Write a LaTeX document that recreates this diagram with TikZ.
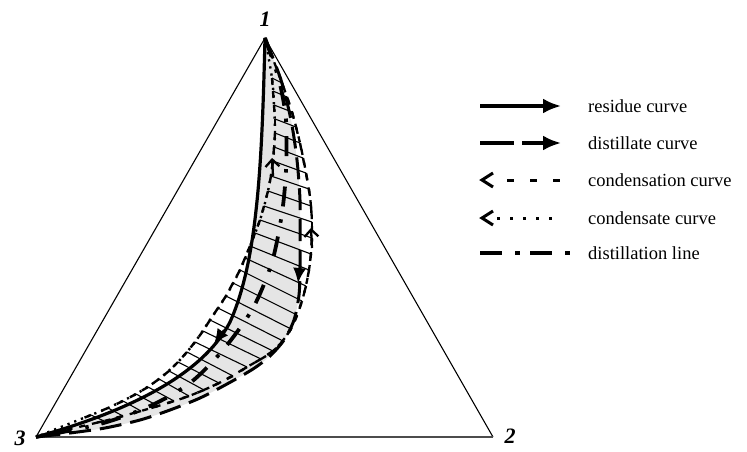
\documentclass[tikz,border=0pt]{standalone}
\usepackage{fontspec}
\setmainfont{Liberation Serif}
\usetikzlibrary{arrows.meta,calc}
\begin{document}
\begin{tikzpicture}[x=1pt,y=-1pt,
  edge/.style={line width=1.1pt},
  resid/.style={line width=3.2pt},
  distil/.style={line width=3pt, dash pattern=on 22pt off 9pt},
  cond/.style={line width=2.3pt, dash pattern=on 6pt off 7pt},
  condsat/.style={line width=2.4pt, dash pattern=on 2.2pt off 5pt},
  dline/.style={line width=3.8pt, dash pattern=on 20pt off 13pt on 3.5pt off 14pt},
  tie/.style={line width=1.1pt},
  tickmark/.style={line width=2.4pt},
  fillarrow/.style={-{Latex[length=18pt,width=15pt]}},
  curvearrow/.style={-{Latex[length=15pt,width=13pt]}},
  openarrow/.style={-{Straight Barb[length=7pt,width=14pt]}},
  lab/.style={font=\fontsize{18.5}{22}\selectfont, anchor=base west, inner sep=0pt},
  vlab/.style={font=\fontsize{22}{26}\selectfont\bfseries\itshape, inner sep=0pt},
]
\useasboundingbox (0,0) rectangle (747,451);

% vertices
\coordinate (v1) at (265,38);
\coordinate (v2) at (493,437);
\coordinate (v3) at (36,437);
\coordinate (rm) at (230,322);

% shaded region between residue curve and distillate curve
\fill[gray!20] (v1) .. controls (262,160) and (258,260) .. (rm) .. controls (200,380) and (115,415) .. (v3)
  -- plot[smooth] coordinates {(36,437) (70,433) (105,428) (140,420) (170,410) (200,398) (227,384) (253,369) (270,356) (284,340) (294,320) (299,295) (300,270) (300,240) (300,200) (297,160) (291,120) (281,80) (265,38)} -- cycle;

% triangle
\draw[edge] (v3) -- (v1) -- (v2);
\draw[line width=2.2pt, black!70] (v3) -- (v2);

% tie lines
\foreach \i/\lx/\ly/\tx/\ty in {
 1/272/78/282/83, 2/273/91/287/97, 3/274/105/292/112, 4/275/119/296/127,
 5/275/133/300/143, 6/274/147/303/158, 7/273/161/306/173, 8/271/176/309/189,
 9/268/191/311/206, 10/264/206/312/222, 11/260/220/312/238, 12/255/233/311/254,
 13/250/246/309/270, 14/245/258/306/286, 15/240/270/302/301, 16/233/283/297/315,
 17/226/296/291/329, 18/218/308/283/341, 19/210/320/273/351, 20/203/331/261/359,
 21/195/342/247/367, 22/187/352/233/376, 23/178/362/219/383, 24/169/371/204/390,
 25/159/379/189/396, 26/148/387/174/401, 27/136/394/158/406, 28/123/401/141/411,
 29/108/408/123/416, 30/91/415/104/421}{
  \coordinate (L\i) at (\lx,\ly);
  \coordinate (T\i) at (\tx,\ty);
  \draw[tie] (L\i) -- (T\i);
}
\coordinate (L31) at (v3);
\coordinate (T31) at (v3);
\foreach \i [evaluate=\i as \j using {int(\i+1)}] in {1,...,30}{
  \draw[tickmark] (L\i) -- ($(L\i)!7pt!(L\j)$);
  \draw[tickmark] (T\i) -- ($(T\i)!7pt!(T\j)$);
}

% condensate curve (left, dotted)
\draw[condsat] plot[smooth] coordinates {(265,38) (272,78) (274,105) (275,133) (273,161) (268,191) (260,220) (250,246) (240,270) (226,296) (210,320) (195,342) (178,362) (159,379) (136,394) (108,408) (91,415) (36,437)};
% condensation curve (right, short dashes)
\draw[cond] plot[smooth] coordinates {(265,38) (282,83) (292,112) (300,143) (306,173) (311,206) (312,238) (309,270) (302,301) (291,329) (273,351) (247,367) (219,383) (189,396) (158,406) (123,416) (104,421) (36,437)};

% distillation line
\draw[dline] plot[smooth] coordinates {(265,38) (279,80) (286,120) (286,170) (282,213) (272,262) (253,308) (223,350) (190,383) (150,406) (100,424) (36,437)};

% distillate curve
\draw[distil] plot[smooth] coordinates {(265,38) (281,80) (291,120) (297,160) (300,200) (300,240) (300,270) (299,295) (294,320) (284,340) (270,356) (253,369) (227,384) (200,398) (170,410) (140,420) (105,428) (70,433) (36,437)};

% residue curve
\draw[resid] (v1) .. controls (262,160) and (258,260) .. (rm) .. controls (200,380) and (115,415) .. (v3);

% direction arrows on the curves
\coordinate (ra) at (224,330); \coordinate (rb) at (214,344);
\draw[line width=2pt, curvearrow] (ra) -- (rb);
\coordinate (da) at (300,264); \coordinate (db) at (298,283);
\draw[line width=2pt, curvearrow] (da) -- (db);
\coordinate (ca) at (312,248); \coordinate (cb) at (311,228);
\draw[line width=2.3pt, openarrow] (ca) -- (cb);
\coordinate (la) at (273,176); \coordinate (lb) at (272,158);
\draw[line width=2.3pt, openarrow] (la) -- (lb);

% vertex labels
\node[vlab] (n1) at (265,19) {1};
\node[vlab] (n2) at (510,436) {2};
\node[vlab] (n3) at (20,438) {3};

% legend
\coordinate (a1) at (480,106); \coordinate (b1) at (561,106);
\draw[line width=3.2pt, fillarrow] (a1) -- (b1);
\node[lab] (t1) at (588,112.5) {residue curve};

\coordinate (a2) at (480,143); \coordinate (m2) at (514,143);
\coordinate (c2) at (522,143); \coordinate (b2) at (561,143);
\draw[line width=3.2pt] (a2) -- (m2);
\draw[line width=3.2pt, fillarrow] (c2) -- (b2);
\node[lab] (t2) at (588,149.5) {distillate curve};

\draw[line width=3pt, miter limit=10] (493,173) -- (482,180) -- (493,187);
\coordinate (a3) at (507,180); \coordinate (b3) at (562,180);
\draw[line width=3pt, dash pattern=on 7pt off 16pt] (a3) -- (b3);
\node[lab] (t3) at (588,186.5) {condensation curve};

\draw[line width=3pt, miter limit=10] (493,211) -- (482,218) -- (493,225);
\coordinate (a4) at (497,218); \coordinate (b4) at (556,218);
\draw[line width=3pt, dash pattern=on 3pt off 10pt] (a4) -- (b4);
\node[lab] (t4) at (588,224.5) {condensate curve};

\coordinate (a5) at (480,253); \coordinate (b5) at (570,253);
\draw[line width=4pt, dash pattern=on 22pt off 13pt on 5pt off 10pt] (a5) -- (b5);
\node[lab] (t5) at (588,259.5) {distillation line};
\end{tikzpicture}
\end{document}
